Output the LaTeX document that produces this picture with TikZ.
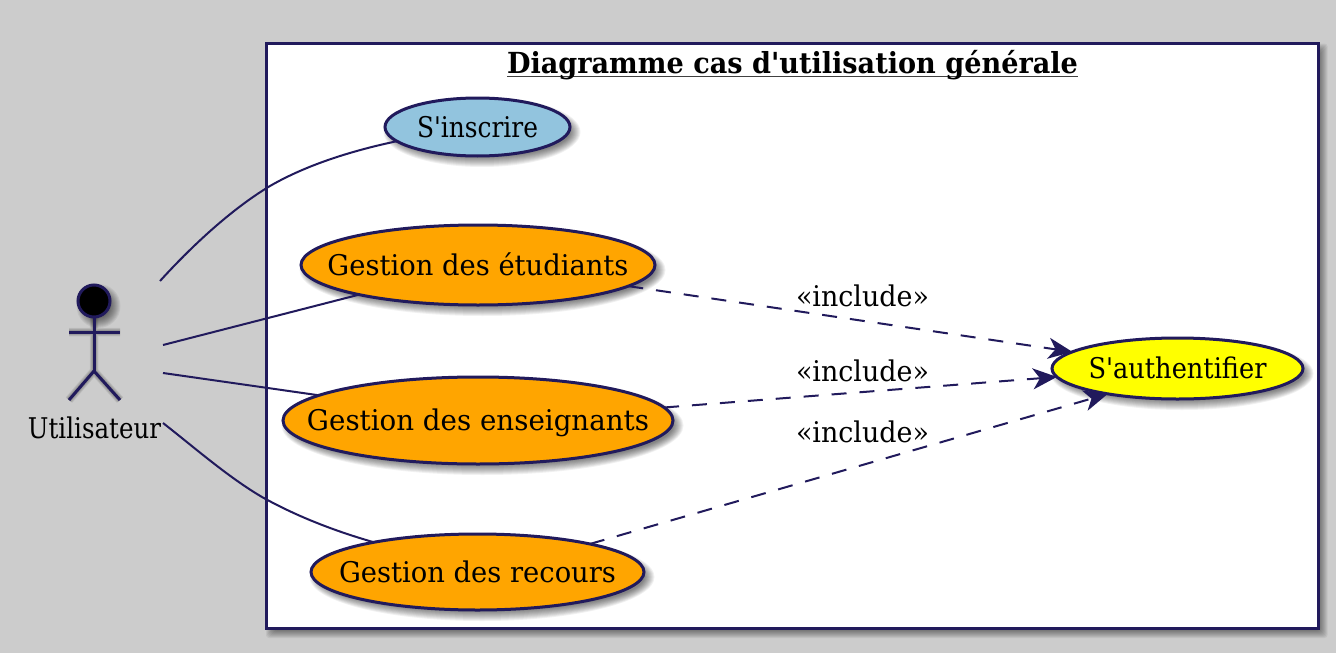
\documentclass[tikz,border=0pt]{standalone}
\usepackage{graphicx}
\usepackage{fontspec}
\setmainfont{DejaVu Serif}[Ligatures=TeXOff]
\usetikzlibrary{arrows.meta,shapes.geometric}
\definecolor{ink}{HTML}{211A5C}
\definecolor{bgray}{HTML}{CCCCCC}
\definecolor{skyuc}{HTML}{92C4DE}
\definecolor{orangeuc}{HTML}{FFA500}
\definecolor{yellowuc}{HTML}{FFFF00}
% text squeezed or stretched to a given width, height kept
\newcommand{\fitw}[2]{\resizebox{#1}{\height}{#2}}
\newcommand{\ctext}[2]{\makebox[0pt]{\raisebox{-.36em}[0pt][0pt]{\fitw{#1}{#2}}}}
\newcommand{\ulin}[1]{\setbox0\hbox{#1}\rlap{\color{black!75}\rule[-3.5pt]{\wd0}{1.3pt}}\box0}
% soft shadows: stacks of faint fills
\newcommand{\ellshadow}[4]{%
  \foreach \k in {-4,...,6}{%
    \fill[black,opacity=.055] (#1+4.5,#2+5) ellipse [x radius=#3/2+\k, y radius=#4/2+\k];}}
\newcommand{\rectshadow}[4]{%
  \foreach \k in {-4,...,5}{%
    \fill[black,opacity=.06,rounded corners=3pt] (#1+4.5-\k,#2+5-\k) rectangle (#3+4.5+\k,#4+5+\k);}}
\tikzset{
  usecase/.style={ellipse,draw=ink,line width=3pt,inner sep=0pt,outer sep=0pt,font=\fontsize{28.5}{34}\selectfont},
  frame/.style={draw=ink,fill=white,line width=3pt,inner sep=0pt,outer sep=0pt},
  link/.style={draw=ink,line width=2pt},
  incl/.style={link,dash pattern=on 15pt off 13pt,-{Stealth[length=24pt,width=21pt,inset=7pt]}},
  lab/.style={font=\fontsize{28.5}{34}\selectfont,inner sep=0pt},
  limb/.style={draw=ink,line width=3pt},
  limbshadow/.style={draw=black}
}
\begin{document}
\begin{tikzpicture}[x=1pt,y=-1pt]
\useasboundingbox[fill=bgray] (0,0) rectangle (1336,653);
% system frame
\rectshadow{266.5}{43.5}{1318}{628}
\node[frame,minimum width=1051.5pt,minimum height=584.5pt] (box) at (792.25,335.75) {};
\node[inner sep=0pt,font=\fontsize{29}{34}\selectfont\bfseries] (title) at (792.5,65) {\fitw{571pt}{\ulin{Diagramme cas d'utilisation générale}}};
% use cases
\ellshadow{477.5}{127}{185}{58}
\ellshadow{478}{265}{354}{80}
\ellshadow{478}{420.5}{390}{87}
\ellshadow{477.5}{572}{333}{76}
\ellshadow{1177.5}{368.5}{251}{61}
\node[usecase,fill=skyuc,minimum width=185pt,minimum height=58pt] (insc) at (477.5,127) {\ctext{121pt}{S'inscrire}};
\node[usecase,fill=orangeuc,minimum width=354pt,minimum height=80pt] (etud) at (478,265) {\ctext{301pt}{Gestion des étudiants}};
\node[usecase,fill=orangeuc,minimum width=390pt,minimum height=87pt] (ens) at (478,420.5) {\ctext{342pt}{Gestion des enseignants}};
\node[usecase,fill=orangeuc,minimum width=333pt,minimum height=76pt] (rec) at (477.5,572) {\ctext{277pt}{Gestion des recours}};
\node[usecase,fill=yellowuc,minimum width=251pt,minimum height=61pt] (auth) at (1177.5,368.5) {\ctext{178pt}{S'authentifier}};
% actor
\coordinate (neck) at (94,317);
\coordinate (armL) at (69,332);
\coordinate (armR) at (120,332);
\coordinate (hip) at (94,371);
\coordinate (legL) at (69,400);
\coordinate (legR) at (120,400);
\foreach \w in {1,2.5,4,5.5,7,8.5}{
  \begin{scope}[shift={(5,6)},opacity=.075]
    \draw[limbshadow,line width=\w pt] (neck) -- (hip) (armL) -- (armR) (hip) -- (legL) (hip) -- (legR);
  \end{scope}
}
\ellshadow{94}{301}{32}{32}
\node[circle,fill=black,draw=ink,line width=3pt,minimum size=32pt,inner sep=0pt,outer sep=0pt] (head) at (94,301) {};
\draw[limb] (head) -- (hip);
\draw[limb] (armL) -- (armR);
\draw[limb] (hip) -- (legL);
\draw[limb] (hip) -- (legR);
\node[lab] (actor) at (94.5,427.5) {\fitw{133pt}{Utilisateur}};
% free ends at the actor
\coordinate (a1) at (160,281);
\coordinate (a2) at (163,345);
\coordinate (a3) at (163,373);
\coordinate (a4) at (163,423);
% associations
\draw[link] (a1) .. controls (190,248) and (230,210) .. (270,186) .. controls (308,164) and (355,150) .. (insc.190);
\draw[link] (a2) -- (etud.194.3);
\draw[link] (a3) -- (ens.171.1);
\draw[link] (a4) .. controls (195,448) and (228,477) .. (262,497) .. controls (298,517) and (335,531) .. (rec.164);
% includes
\draw[incl] (etud.-8.7) -- (auth.171.3);
\draw[incl] (ens.4.5) -- (auth.184);
\draw[incl] (rec.14) -- (auth.200);
\node[lab] (i1) at (862.5,295.5) {\fitw{133pt}{«include»}};
\node[lab] (i2) at (862.5,370.5) {\fitw{133pt}{«include»}};
\node[lab] (i3) at (862.5,431.5) {\fitw{133pt}{«include»}};
\end{tikzpicture}
\end{document}
